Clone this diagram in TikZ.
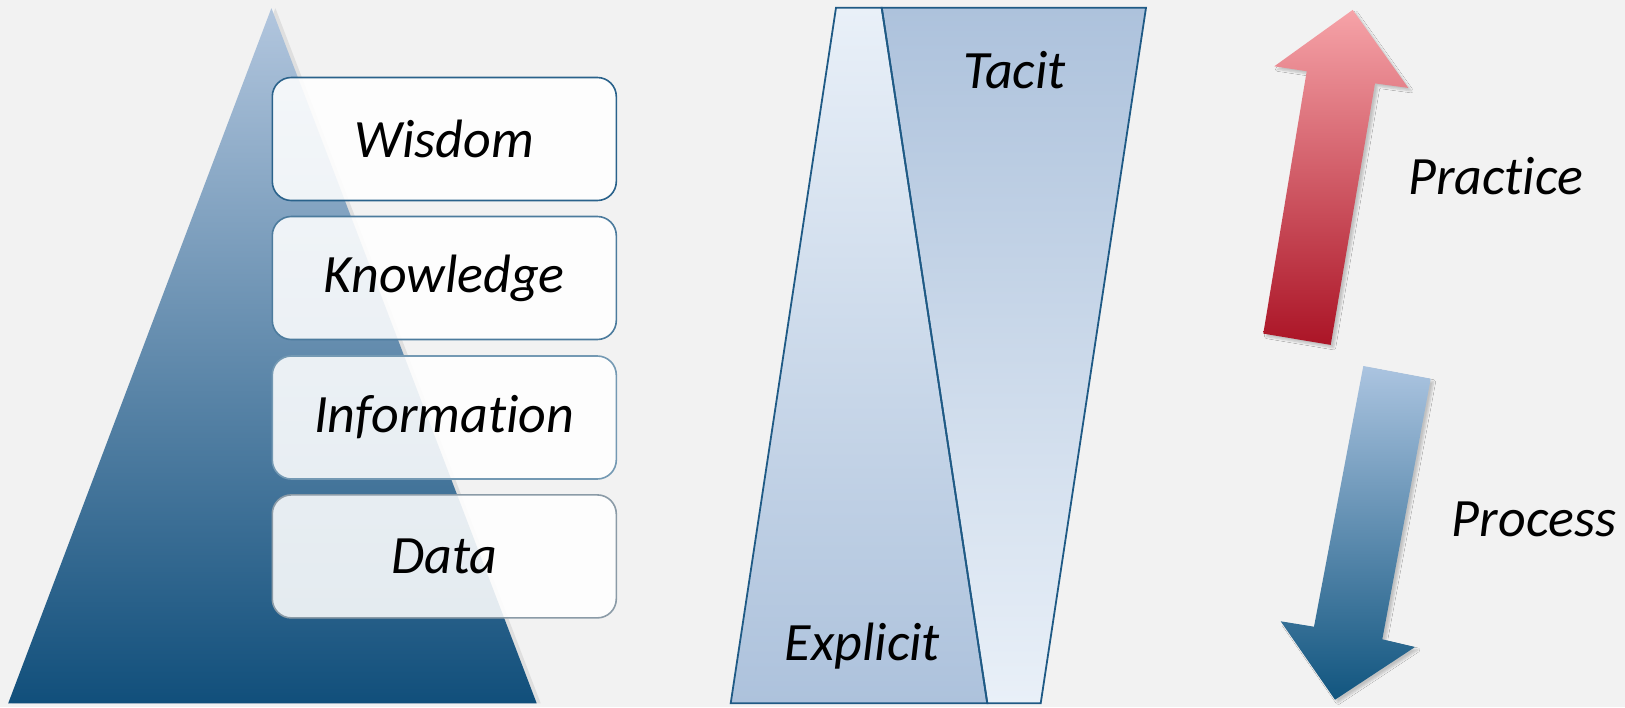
\documentclass[tikz,border=0pt]{standalone}
\usepackage{fontspec}
\setmainfont[RawFeature={-liga;-clig;-calt;-dlig}]{Carlito}
\usetikzlibrary{shadows.blur}

\definecolor{bg}{HTML}{F2F2F2}
\definecolor{pyrtop}{HTML}{B2C6DE}
\definecolor{pyrbot}{HTML}{114F7B}
\definecolor{edgeblue}{HTML}{1F5A85}
\definecolor{lightpane}{HTML}{E9F0F8}
\definecolor{midpane}{HTML}{ADC2DC}
\definecolor{redtop}{HTML}{F6A3A8}
\definecolor{redbot}{HTML}{AB1426}
\definecolor{bluetop}{HTML}{ABC4E0}
\definecolor{bluebot}{HTML}{11557F}

% keeps "t" and "i" as separate glyphs
\newcommand{\nolig}{\kern0pt}

\tikzset{
  label text/.style={font=\fontsize{54}{60}\selectfont\itshape, text=black, inner sep=0pt},
  levelbox/.style={draw, line width=1.6pt, rounded corners=19pt, fill=white, fill opacity=0.88,
    text opacity=1, minimum width=344pt, minimum height=123pt, inner sep=0pt,
    font=\fontsize{54}{60}\selectfont\itshape},
  pane/.style={draw=edgeblue, line width=1.8pt, line join=miter},
  bigarrow/.style={blur shadow={shadow xshift=3pt, shadow yshift=-3pt, shadow blur steps=6, shadow opacity=20}},
}

\begin{document}
\begin{tikzpicture}[x=1pt, y=-1pt]
  % canvas
  \fill[bg] (0,0) rectangle (1625,707);
  \useasboundingbox (0,0) rectangle (1625,707);

  % DIKW pyramid
  \fill[black, opacity=0.08] (275.4,8.1) -- (540.7,703.3) -- (12.2,703.3) -- cycle;
  \shade[top color=pyrtop, bottom color=pyrbot] (271.4,8.1) -- (536.7,703.3) -- (8.2,703.3) -- cycle;

  % pyramid levels
  \node[levelbox, draw=edgeblue!95!white] (wisdom)    at (444.3,139.0) {Wisdom};
  \node[levelbox, draw=edgeblue!80!white] (knowledge) at (444.3,278.0) {Knowledge};
  \node[levelbox, draw=edgeblue!62!white] (information) at (444.3,417.5) {Informat\nolig ion};
  \node[levelbox, draw=edgeblue!40!gray!70!white] (data) at (444.3,556.4) {Data};

  % explicit / tacit panes
  \coordinate (ptl) at (836.0,7.7);
  \coordinate (psplit) at (881.7,7.7);
  \coordinate (ptr) at (1146.0,7.7);
  \coordinate (pbl) at (730.7,703.3);
  \coordinate (pbsplit) at (987.3,703.3);
  \coordinate (pbr) at (1040.7,703.3);

  \shade[top color=lightpane, bottom color=midpane] (ptl) -- (psplit) -- (pbsplit) -- (pbl) -- cycle;
  \shade[top color=midpane, bottom color=lightpane] (psplit) -- (ptr) -- (pbr) -- (pbsplit) -- cycle;
  \draw[pane] (ptl) -- (psplit) -- (pbsplit) -- (pbl) -- cycle;
  \draw[pane] (psplit) -- (ptr) -- (pbr) -- (pbsplit) -- cycle;

  \node[label text, anchor=base] (tacit) at (1014.5,88.0) {Tacit};
  \node[label text, anchor=base] (explicit) at (862.5,660.5) {Explicit};

  % practice arrow (up)
  \shade[bigarrow, top color=redtop, bottom color=redbot]
    (1352.7,9.9) -- (1408.3,87.9) -- (1375.0,83.4) -- (1330.7,344.9)
    -- (1263.3,333.6) -- (1306.7,71.2) -- (1274.3,66.3) -- cycle;
  \node[label text, anchor=base west] (practice) at (1408.0,194.8) {Pract\nolig ice};

  % process arrow (down)
  \shade[bigarrow, top color=bluetop, bottom color=bluebot]
    (1363.3,366.0) -- (1430.7,378.7) -- (1382.3,639.3) -- (1415.0,647.0)
    -- (1335.0,699.7) -- (1280.7,621.3) -- (1314.0,626.7) -- cycle;
  \node[label text, anchor=base west] (process) at (1451.7,536.5) {Process};
\end{tikzpicture}
\end{document}
